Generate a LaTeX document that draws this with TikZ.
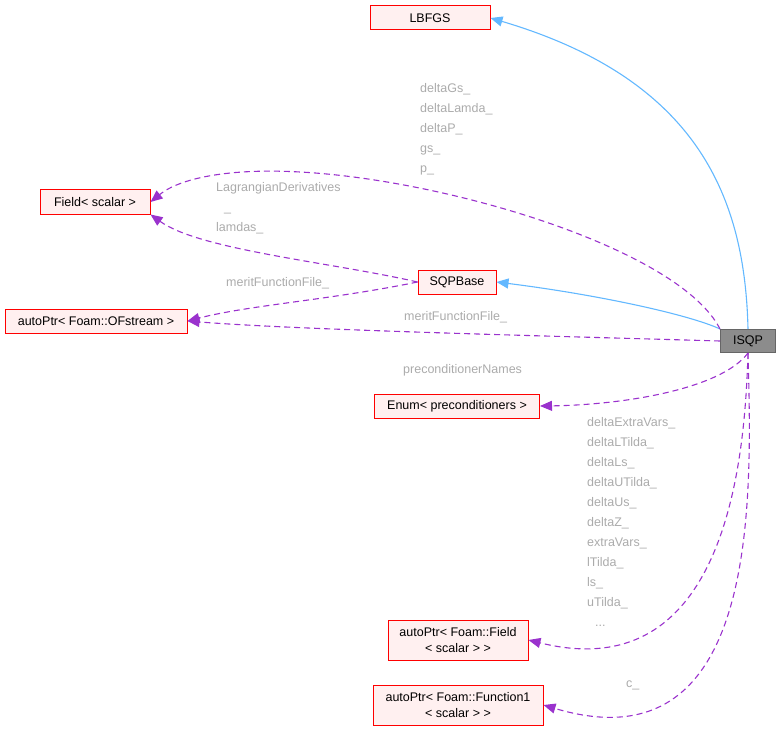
\documentclass[tikz,border=0pt]{standalone}
\usepackage{fontspec}
\setmainfont{Liberation Sans}
\usetikzlibrary{arrows.meta}
\definecolor{nfill}{HTML}{FFF0F0}
\definecolor{blu}{HTML}{63B8FF}
\definecolor{pur}{HTML}{9A32CD}
\definecolor{lab}{HTML}{ABABAB}
\begin{document}
\begin{tikzpicture}[x=1pt,y=-1pt,
  box/.style={draw=red,fill=nfill,font=\fontsize{12.5}{16}\selectfont,inner sep=3pt,minimum height=24pt,align=center,line width=1pt},
  inh/.style={blu,-{Triangle[length=12pt,width=10pt]},line width=1.1pt},
  use/.style={pur,dash pattern=on 6pt off 4pt,-{Triangle[length=12pt,width=10pt]},line width=1.1pt},
  lbl/.style={lab,font=\fontsize{12.5}{20}\selectfont,align=left,anchor=north west,inner sep=0pt}]
\useasboundingbox (0,0) rectangle (781,738);
\node[box,minimum width=120pt] (lbfgs) at (430,18) {LBFGS};
\node[box,minimum width=110pt] (field) at (95,202) {Field< scalar >};
\node[box,minimum width=182pt] (ofs) at (96,321) {autoPtr< Foam::OFstream >};
\node[box,minimum width=78pt] (sqp) at (457,282) {SQPBase};
\node[draw=black!60,fill=black!45,font=\fontsize{12.5}{16}\selectfont,minimum width=55pt,minimum height=23pt,inner sep=2pt,line width=1pt] (isqp) at (748,341) {ISQP};
\node[box,minimum width=165pt] (enum) at (457,406) {Enum< preconditioners >};
\node[box,minimum width=140pt,minimum height=40pt] (afield) at (458,640) {autoPtr< Foam::Field\\< scalar > >};
\node[box,minimum width=170pt,minimum height=40pt] (afun) at (458,705) {autoPtr< Foam::Function1\\< scalar > >};

\draw[inh] (isqp.north) .. controls (745,200) and (700,80) .. (lbfgs.east);
\draw[inh] (isqp.north west) .. controls (690,315) and (600,295) .. (sqp.east);
\draw[use] (sqp.west) .. controls (330,262) and (200,250) .. (field.south east);
\draw[use] (sqp.west) .. controls (330,300) and (250,305) .. (ofs.east);
\draw[use] (isqp.north west) .. controls (680,250) and (450,180) .. (300,172) .. controls (230,168) and (180,178) .. (field.east);
\draw[use] (isqp.west) .. controls (550,336) and (300,330) .. (ofs.east);
\draw[use] (isqp.south) .. controls (720,390) and (620,405) .. (enum.east);
\draw[use] (isqp.south) .. controls (745,450) and (730,690) .. (afield.east);
\draw[use] (isqp.south) .. controls (752,500) and (760,770) .. (afun.east);

\node[lbl] (l1) at (420,83) {deltaGs\_\\deltaLamda\_\\deltaP\_\\gs\_\\p\_};
\node[lbl] (l2) at (216,182) {LagrangianDerivatives\\\hspace*{8pt}\_\\lamdas\_};
\node[lbl] (l3) at (226,277) {meritFunctionFile\_};
\node[lbl] (l4) at (404,311) {meritFunctionFile\_};
\node[lbl] (l5) at (403,364) {preconditionerNames};
\node[lbl] (l6) at (587,417) {deltaExtraVars\_\\deltaLTilda\_\\deltaLs\_\\deltaUTilda\_\\deltaUs\_\\deltaZ\_\\extraVars\_\\lTilda\_\\ls\_\\uTilda\_\\\hspace*{8pt}...};
\node[lbl] (l7) at (626,681) {c\_};
\end{tikzpicture}
\end{document}
